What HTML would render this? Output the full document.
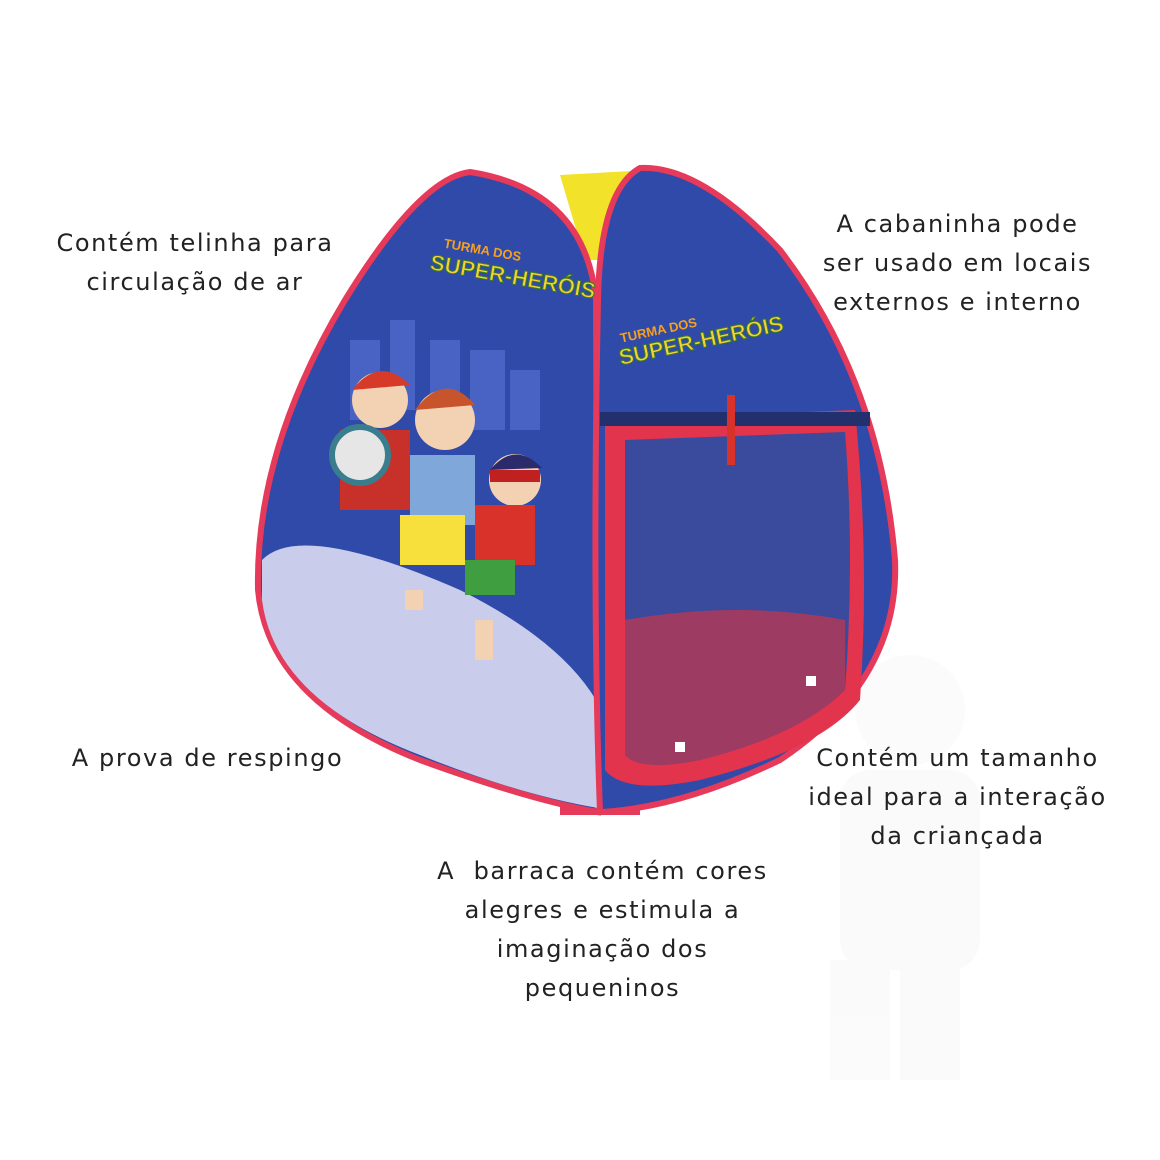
<!DOCTYPE html>
<html><head><meta charset="utf-8"><style>
html,body{margin:0;padding:0;background:#fff;}
.wrap{position:relative;width:1160px;height:1160px;overflow:hidden;background:#fff;}
.t{position:absolute;font-family:"DejaVu Sans","Liberation Sans",sans-serif;font-size:24px;color:#222;text-align:center;line-height:39px;letter-spacing:1.6px;white-space:nowrap;}
svg{position:absolute;left:0;top:0;}
</style></head><body><div class="wrap">
<svg width="1160" height="1160" viewBox="0 0 1160 1160">
<g opacity="0.035" fill="#888"><circle cx="910" cy="710" r="55"/><rect x="840" y="770" width="140" height="200" rx="30"/><rect x="830" y="960" width="60" height="120"/><rect x="900" y="960" width="60" height="120"/></g>
<path d="M560 175 L650 170 L640 260 L585 260 Z" fill="#f2e22a"/>
<path d="M560 740 L640 740 L640 815 L560 815 Z" fill="#e63a5a"/>
<path d="M470 172 Q420 178 345 300 Q255 450 258 590 Q268 700 420 760 Q530 800 598 812 L596 300 Q585 190 470 172 Z" fill="#2f4aa8" stroke="#e63a5a" stroke-width="6"/>
<path d="M262 560 Q300 520 460 590 Q560 640 596 700 L598 808 Q520 795 420 755 Q275 700 262 600 Z" fill="#c9cdeb"/>
<g fill="#4863c4"><rect x="350" y="340" width="30" height="80"/><rect x="390" y="320" width="25" height="90"/><rect x="430" y="340" width="30" height="70"/><rect x="470" y="350" width="35" height="80"/><rect x="510" y="370" width="30" height="60"/></g>
<g><circle cx="380" cy="400" r="28" fill="#f3d2b3"/><path d="M352 390 Q380 355 410 385 Z" fill="#d63b2a"/>
<rect x="340" y="430" width="70" height="80" fill="#c8312a"/><circle cx="360" cy="455" r="28" fill="#e6e6e6" stroke="#3a7d8f" stroke-width="6"/>
<circle cx="445" cy="420" r="30" fill="#f3d2b3"/><path d="M415 410 Q445 370 475 405 Z" fill="#c7542a"/>
<rect x="410" y="455" width="65" height="70" fill="#7fa7d9"/><rect x="400" y="515" width="65" height="50" fill="#f7df3c"/>
<circle cx="515" cy="480" r="26" fill="#f3d2b3"/><rect x="490" y="470" width="50" height="12" fill="#c02020"/><path d="M490 470 Q515 440 542 468 Z" fill="#2b2b6b"/>
<rect x="475" y="505" width="60" height="60" fill="#d8322a"/><rect x="465" y="560" width="50" height="35" fill="#3f9e3f"/>
<rect x="405" y="590" width="18" height="20" fill="#f3d2b3"/><rect x="475" y="620" width="18" height="40" fill="#f3d2b3"/></g>
<text x="430" y="280" font-family="Liberation Sans,sans-serif" font-weight="bold" font-size="22" fill="#f5d23a" stroke="#3d7a22" stroke-width="1" transform="rotate(10 490 270)">SUPER-HERÓIS</text>
<text x="440" y="256" font-family="Liberation Sans,sans-serif" font-weight="bold" font-size="13" fill="#f5a020" transform="rotate(10 490 270)">TURMA DOS</text>
<path d="M640 168 Q700 165 780 250 Q880 380 895 560 Q900 680 780 760 Q680 808 600 812 Q592 600 598 300 Q600 190 640 168 Z" fill="#2f4aa8" stroke="#e63a5a" stroke-width="6"/>
<text x="615" y="350" font-family="Liberation Sans,sans-serif" font-weight="bold" font-size="22" fill="#f5d23a" stroke="#3d7a22" stroke-width="1" transform="rotate(-12 690 330)">SUPER-HERÓIS</text>
<text x="620" y="328" font-family="Liberation Sans,sans-serif" font-weight="bold" font-size="13" fill="#f5a020" transform="rotate(-12 690 330)">TURMA DOS</text>
<path d="M605 420 L855 410 Q870 560 860 700 Q820 750 700 780 Q625 795 605 770 Z" fill="#e2344c"/>
<path d="M625 440 L845 432 Q855 560 845 690 Q800 735 700 760 Q640 772 625 755 Z" fill="#3a4a9c"/>
<path d="M625 620 Q740 600 845 620 L845 690 Q800 735 700 760 Q640 772 625 755 Z" fill="#c8344a" opacity="0.7"/>
<rect x="600" y="412" width="270" height="14" fill="#22306e"/>
<rect x="727" y="395" width="8" height="70" fill="#d8322a"/>
<rect x="806" y="676" width="10" height="10" fill="#fff"/><rect x="675" y="742" width="10" height="10" fill="#fff"/>
</svg>
<div class="t" style="left:40px;top:224px;width:310px">Contém telinha para<br>circulação de ar</div>
<div class="t" style="left:800px;top:205px;width:315px">A cabaninha pode<br>ser usado em locais<br>externos e interno</div>
<div class="t" style="left:40px;top:739px;width:335px">A prova de respingo</div>
<div class="t" style="left:795px;top:739px;width:325px">Contém um tamanho<br>ideal para a interação<br>da criançada</div>
<div class="t" style="left:420px;top:852px;width:365px">A&nbsp; barraca contém cores<br>alegres e estimula a<br>imaginação dos<br>pequeninos</div>
</div></body></html>
